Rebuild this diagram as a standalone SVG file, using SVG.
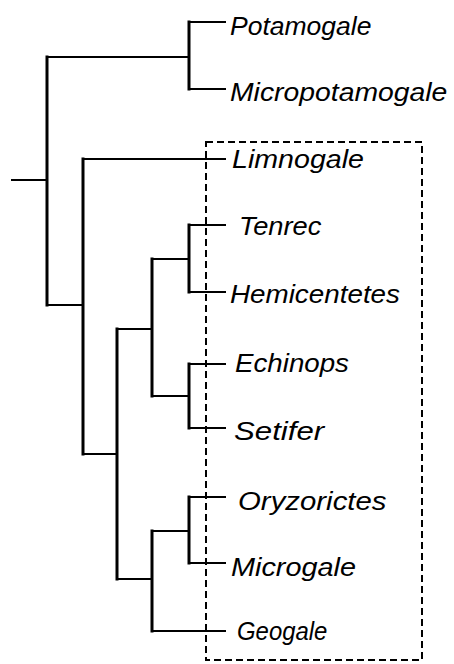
<svg xmlns="http://www.w3.org/2000/svg" width="454" height="664" viewBox="0 0 454 664">
<style>
.h{stroke:#000;stroke-width:2;fill:none;stroke-linecap:square}
.v{stroke:#000;stroke-width:3;fill:none;stroke-linecap:square}
.box{stroke:#000;stroke-width:2;fill:none;stroke-dasharray:7 4}
.t{font-family:"Liberation Sans",Arial,sans-serif;font-style:italic;font-size:26px;fill:#000}
</style>
<rect width="454" height="664" fill="#fff"/>
<g id="box"><rect class="box" x="206" y="142" width="216" height="518"/></g>
<g id="connectors">
<path class="h" d="M12 180H47M47 57H189M189 22H225M189 89H225M47 305H83M83 159H225M83 454H117M117 329H152M152 259H189M189 225H225M189 292H225M152 396H189M189 364H225M189 428H225M117 579H152M152 531H189M189 497H225M189 563H225M152 631H225"/>
<path class="v" d="M47 57V305M189 22V89M83 159V454M117 329V579M152 259V396M189 225V292M189 364V428M152 531V631M189 497V563"/>
</g>
<g id="Potamogale"><text class="t" transform="translate(230 35) scale(1.02 1)">Potamogale</text></g>
<g id="Micropotamogale"><text class="t" transform="translate(230 101) scale(1.09 1)">Micropotamogale</text></g>
<g id="Limnogale"><text class="t" transform="translate(232 168) scale(1.1 1)">Limnogale</text></g>
<g id="Tenrec"><text class="t" transform="translate(239 235) scale(1.05 1)">Tenrec</text></g>
<g id="Hemicentetes"><text class="t" transform="translate(230 303) scale(1.07 1)">Hemicentetes</text></g>
<g id="Echinops"><text class="t" transform="translate(235 372) scale(1.066 1)">Echinops</text></g>
<g id="Setifer"><text class="t" transform="translate(234 440) scale(1.2 1)">Setifer</text></g>
<g id="Oryzorictes"><text class="t" transform="translate(238 510) scale(1.13 1)">Oryzorictes</text></g>
<g id="Microgale"><text class="t" transform="translate(231 576) scale(1.11 1)">Microgale</text></g>
<g id="Geogale"><text class="t" transform="translate(237 640) scale(0.92 1)">Geogale</text></g>
</svg>
